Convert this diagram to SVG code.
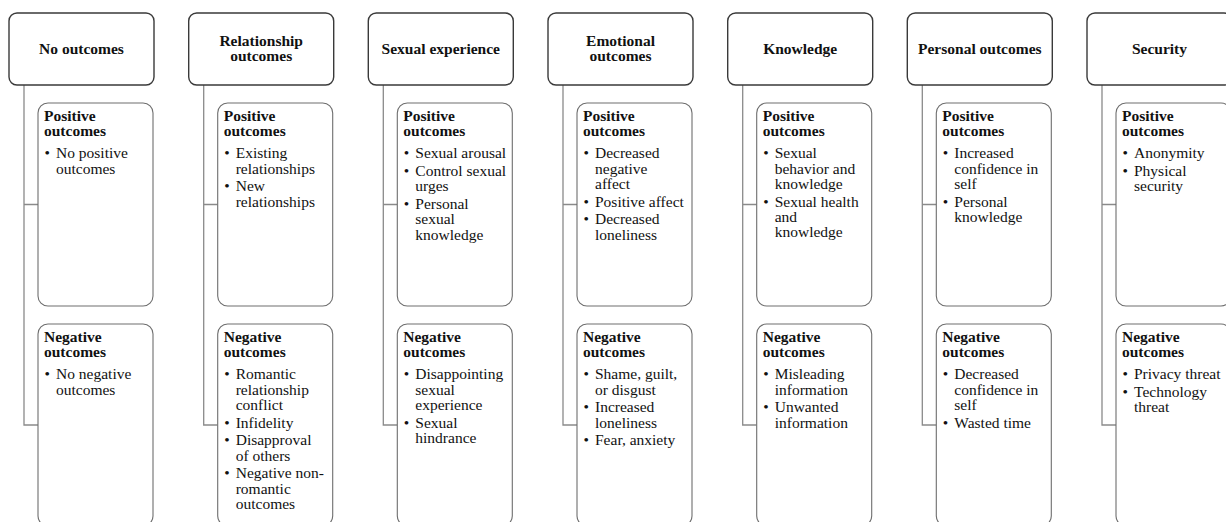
<svg xmlns="http://www.w3.org/2000/svg" width="1226" height="522" viewBox="0 0 1226 522">
<style>
.hdr{fill:#fff;stroke:#3a3a3a;stroke-width:1.4}
.box{fill:#fff;stroke:#6e6e6e;stroke-width:1.1}
.con{fill:none;stroke:#8a8a8a;stroke-width:1.3}
text{font-family:"Liberation Serif","Times New Roman",serif;font-size:15.5px;fill:#111}
.ht{font-weight:bold;text-anchor:middle}
.bt{font-weight:bold}
</style>
<rect width="1226" height="522" fill="#fff"/>
<g id="connectors">
<path class="con" d="M24 85V425H38M24 204.5H38"/>
<path class="con" d="M203.7 85V425H217.7M203.7 204.5H217.7"/>
<path class="con" d="M383.3 85V425H397.3M383.3 204.5H397.3"/>
<path class="con" d="M563 85V425H577M563 204.5H577"/>
<path class="con" d="M742.7 85V425H756.7M742.7 204.5H756.7"/>
<path class="con" d="M922.3 85V425H936.3M922.3 204.5H936.3"/>
<path class="con" d="M1102 85V425H1116M1102 204.5H1116"/>
</g>

<g id="h-no" transform="translate(9,0)"><rect class="hdr" x="0" y="13" width="145" height="72" rx="8"/><text class="ht" x="72.5" y="53.5">No outcomes</text></g>
<g id="h-rel" transform="translate(188.7,0)"><rect class="hdr" x="0" y="13" width="145" height="72" rx="8"/><text class="ht"><tspan x="72.5" y="46">Relationship</tspan><tspan x="72.5" y="61">outcomes</tspan></text></g>
<g id="h-sex" transform="translate(368.3,0)"><rect class="hdr" x="0" y="13" width="145" height="72" rx="8"/><text class="ht" x="72.5" y="53.5">Sexual experience</text></g>
<g id="h-emo" transform="translate(548,0)"><rect class="hdr" x="0" y="13" width="145" height="72" rx="8"/><text class="ht"><tspan x="72.5" y="46">Emotional</tspan><tspan x="72.5" y="61">outcomes</tspan></text></g>
<g id="h-kno" transform="translate(727.7,0)"><rect class="hdr" x="0" y="13" width="145" height="72" rx="8"/><text class="ht" x="72.5" y="53.5">Knowledge</text></g>
<g id="h-per" transform="translate(907.3,0)"><rect class="hdr" x="0" y="13" width="145" height="72" rx="8"/><text class="ht" x="72.5" y="53.5">Personal outcomes</text></g>
<g id="h-sec" transform="translate(1087,0)"><rect class="hdr" x="0" y="13" width="145" height="72" rx="8"/><text class="ht" x="72.5" y="53.5">Security</text></g>

<g id="p-no" transform="translate(38,0)"><rect class="box" x="0" y="103" width="115" height="203" rx="10"/>
<text class="bt"><tspan x="6" y="120.5">Positive</tspan><tspan x="6" y="135.5">outcomes</tspan></text>
<text><tspan x="6.5" y="158.3">•</tspan><tspan x="18">No positive</tspan><tspan x="18" y="173.5">outcomes</tspan></text></g>
<g id="n-no" transform="translate(38,0)"><rect class="box" x="0" y="324" width="115" height="202" rx="10"/>
<text class="bt"><tspan x="6" y="341.5">Negative</tspan><tspan x="6" y="356.5">outcomes</tspan></text>
<text><tspan x="6.5" y="379.3">•</tspan><tspan x="18">No negative</tspan><tspan x="18" y="394.5">outcomes</tspan></text></g>

<g id="p-rel" transform="translate(217.7,0)"><rect class="box" x="0" y="103" width="115" height="203" rx="10"/>
<text class="bt"><tspan x="6" y="120.5">Positive</tspan><tspan x="6" y="135.5">outcomes</tspan></text>
<text><tspan x="6.5" y="158.3">•</tspan><tspan x="18">Existing</tspan><tspan x="18" y="173.5">relationships</tspan>
<tspan x="6.5" y="191.3">•</tspan><tspan x="18">New</tspan><tspan x="18" y="206.5">relationships</tspan></text></g>
<g id="n-rel" transform="translate(217.7,0)"><rect class="box" x="0" y="324" width="115" height="202" rx="10"/>
<text class="bt"><tspan x="6" y="341.5">Negative</tspan><tspan x="6" y="356.5">outcomes</tspan></text>
<text><tspan x="6.5" y="379.3">•</tspan><tspan x="18">Romantic</tspan><tspan x="18" y="394.5">relationship</tspan><tspan x="18" y="409.7">conflict</tspan>
<tspan x="6.5" y="427.5">•</tspan><tspan x="18">Infidelity</tspan>
<tspan x="6.5" y="445.3">•</tspan><tspan x="18">Disapproval</tspan><tspan x="18" y="460.5">of others</tspan>
<tspan x="6.5" y="478.3">•</tspan><tspan x="18">Negative non-</tspan><tspan x="18" y="493.5">romantic</tspan><tspan x="18" y="508.7">outcomes</tspan></text></g>

<g id="p-sex" transform="translate(397.3,0)"><rect class="box" x="0" y="103" width="115" height="203" rx="10"/>
<text class="bt"><tspan x="6" y="120.5">Positive</tspan><tspan x="6" y="135.5">outcomes</tspan></text>
<text><tspan x="6.5" y="158.3">•</tspan><tspan x="18">Sexual arousal</tspan>
<tspan x="6.5" y="176.1">•</tspan><tspan x="18">Control sexual</tspan><tspan x="18" y="191.3">urges</tspan>
<tspan x="6.5" y="209.1">•</tspan><tspan x="18">Personal</tspan><tspan x="18" y="224.3">sexual</tspan><tspan x="18" y="239.5">knowledge</tspan></text></g>
<g id="n-sex" transform="translate(397.3,0)"><rect class="box" x="0" y="324" width="115" height="202" rx="10"/>
<text class="bt"><tspan x="6" y="341.5">Negative</tspan><tspan x="6" y="356.5">outcomes</tspan></text>
<text><tspan x="6.5" y="379.3">•</tspan><tspan x="18">Disappointing</tspan><tspan x="18" y="394.5">sexual</tspan><tspan x="18" y="409.7">experience</tspan>
<tspan x="6.5" y="427.5">•</tspan><tspan x="18">Sexual</tspan><tspan x="18" y="442.7">hindrance</tspan></text></g>

<g id="p-emo" transform="translate(577,0)"><rect class="box" x="0" y="103" width="115" height="203" rx="10"/>
<text class="bt"><tspan x="6" y="120.5">Positive</tspan><tspan x="6" y="135.5">outcomes</tspan></text>
<text><tspan x="6.5" y="158.3">•</tspan><tspan x="18">Decreased</tspan><tspan x="18" y="173.5">negative</tspan><tspan x="18" y="188.7">affect</tspan>
<tspan x="6.5" y="206.5">•</tspan><tspan x="18">Positive affect</tspan>
<tspan x="6.5" y="224.3">•</tspan><tspan x="18">Decreased</tspan><tspan x="18" y="239.5">loneliness</tspan></text></g>
<g id="n-emo" transform="translate(577,0)"><rect class="box" x="0" y="324" width="115" height="202" rx="10"/>
<text class="bt"><tspan x="6" y="341.5">Negative</tspan><tspan x="6" y="356.5">outcomes</tspan></text>
<text><tspan x="6.5" y="379.3">•</tspan><tspan x="18">Shame, guilt,</tspan><tspan x="18" y="394.5">or disgust</tspan>
<tspan x="6.5" y="412.3">•</tspan><tspan x="18">Increased</tspan><tspan x="18" y="427.5">loneliness</tspan>
<tspan x="6.5" y="445.3">•</tspan><tspan x="18">Fear, anxiety</tspan></text></g>

<g id="p-kno" transform="translate(756.7,0)"><rect class="box" x="0" y="103" width="115" height="203" rx="10"/>
<text class="bt"><tspan x="6" y="120.5">Positive</tspan><tspan x="6" y="135.5">outcomes</tspan></text>
<text><tspan x="6.5" y="158.3">•</tspan><tspan x="18">Sexual</tspan><tspan x="18" y="173.5">behavior and</tspan><tspan x="18" y="188.7">knowledge</tspan>
<tspan x="6.5" y="206.5">•</tspan><tspan x="18">Sexual health</tspan><tspan x="18" y="221.7">and</tspan><tspan x="18" y="236.9">knowledge</tspan></text></g>
<g id="n-kno" transform="translate(756.7,0)"><rect class="box" x="0" y="324" width="115" height="202" rx="10"/>
<text class="bt"><tspan x="6" y="341.5">Negative</tspan><tspan x="6" y="356.5">outcomes</tspan></text>
<text><tspan x="6.5" y="379.3">•</tspan><tspan x="18">Misleading</tspan><tspan x="18" y="394.5">information</tspan>
<tspan x="6.5" y="412.3">•</tspan><tspan x="18">Unwanted</tspan><tspan x="18" y="427.5">information</tspan></text></g>

<g id="p-per" transform="translate(936.3,0)"><rect class="box" x="0" y="103" width="115" height="203" rx="10"/>
<text class="bt"><tspan x="6" y="120.5">Positive</tspan><tspan x="6" y="135.5">outcomes</tspan></text>
<text><tspan x="6.5" y="158.3">•</tspan><tspan x="18">Increased</tspan><tspan x="18" y="173.5">confidence in</tspan><tspan x="18" y="188.7">self</tspan>
<tspan x="6.5" y="206.5">•</tspan><tspan x="18">Personal</tspan><tspan x="18" y="221.7">knowledge</tspan></text></g>
<g id="n-per" transform="translate(936.3,0)"><rect class="box" x="0" y="324" width="115" height="202" rx="10"/>
<text class="bt"><tspan x="6" y="341.5">Negative</tspan><tspan x="6" y="356.5">outcomes</tspan></text>
<text><tspan x="6.5" y="379.3">•</tspan><tspan x="18">Decreased</tspan><tspan x="18" y="394.5">confidence in</tspan><tspan x="18" y="409.7">self</tspan>
<tspan x="6.5" y="427.5">•</tspan><tspan x="18">Wasted time</tspan></text></g>

<g id="p-sec" transform="translate(1116,0)"><rect class="box" x="0" y="103" width="115" height="203" rx="10"/>
<text class="bt"><tspan x="6" y="120.5">Positive</tspan><tspan x="6" y="135.5">outcomes</tspan></text>
<text><tspan x="6.5" y="158.3">•</tspan><tspan x="18">Anonymity</tspan>
<tspan x="6.5" y="176.1">•</tspan><tspan x="18">Physical</tspan><tspan x="18" y="191.3">security</tspan></text></g>
<g id="n-sec" transform="translate(1116,0)"><rect class="box" x="0" y="324" width="115" height="202" rx="10"/>
<text class="bt"><tspan x="6" y="341.5">Negative</tspan><tspan x="6" y="356.5">outcomes</tspan></text>
<text><tspan x="6.5" y="379.3">•</tspan><tspan x="18">Privacy threat</tspan>
<tspan x="6.5" y="397.1">•</tspan><tspan x="18">Technology</tspan><tspan x="18" y="412.3">threat</tspan></text></g>
</svg>
